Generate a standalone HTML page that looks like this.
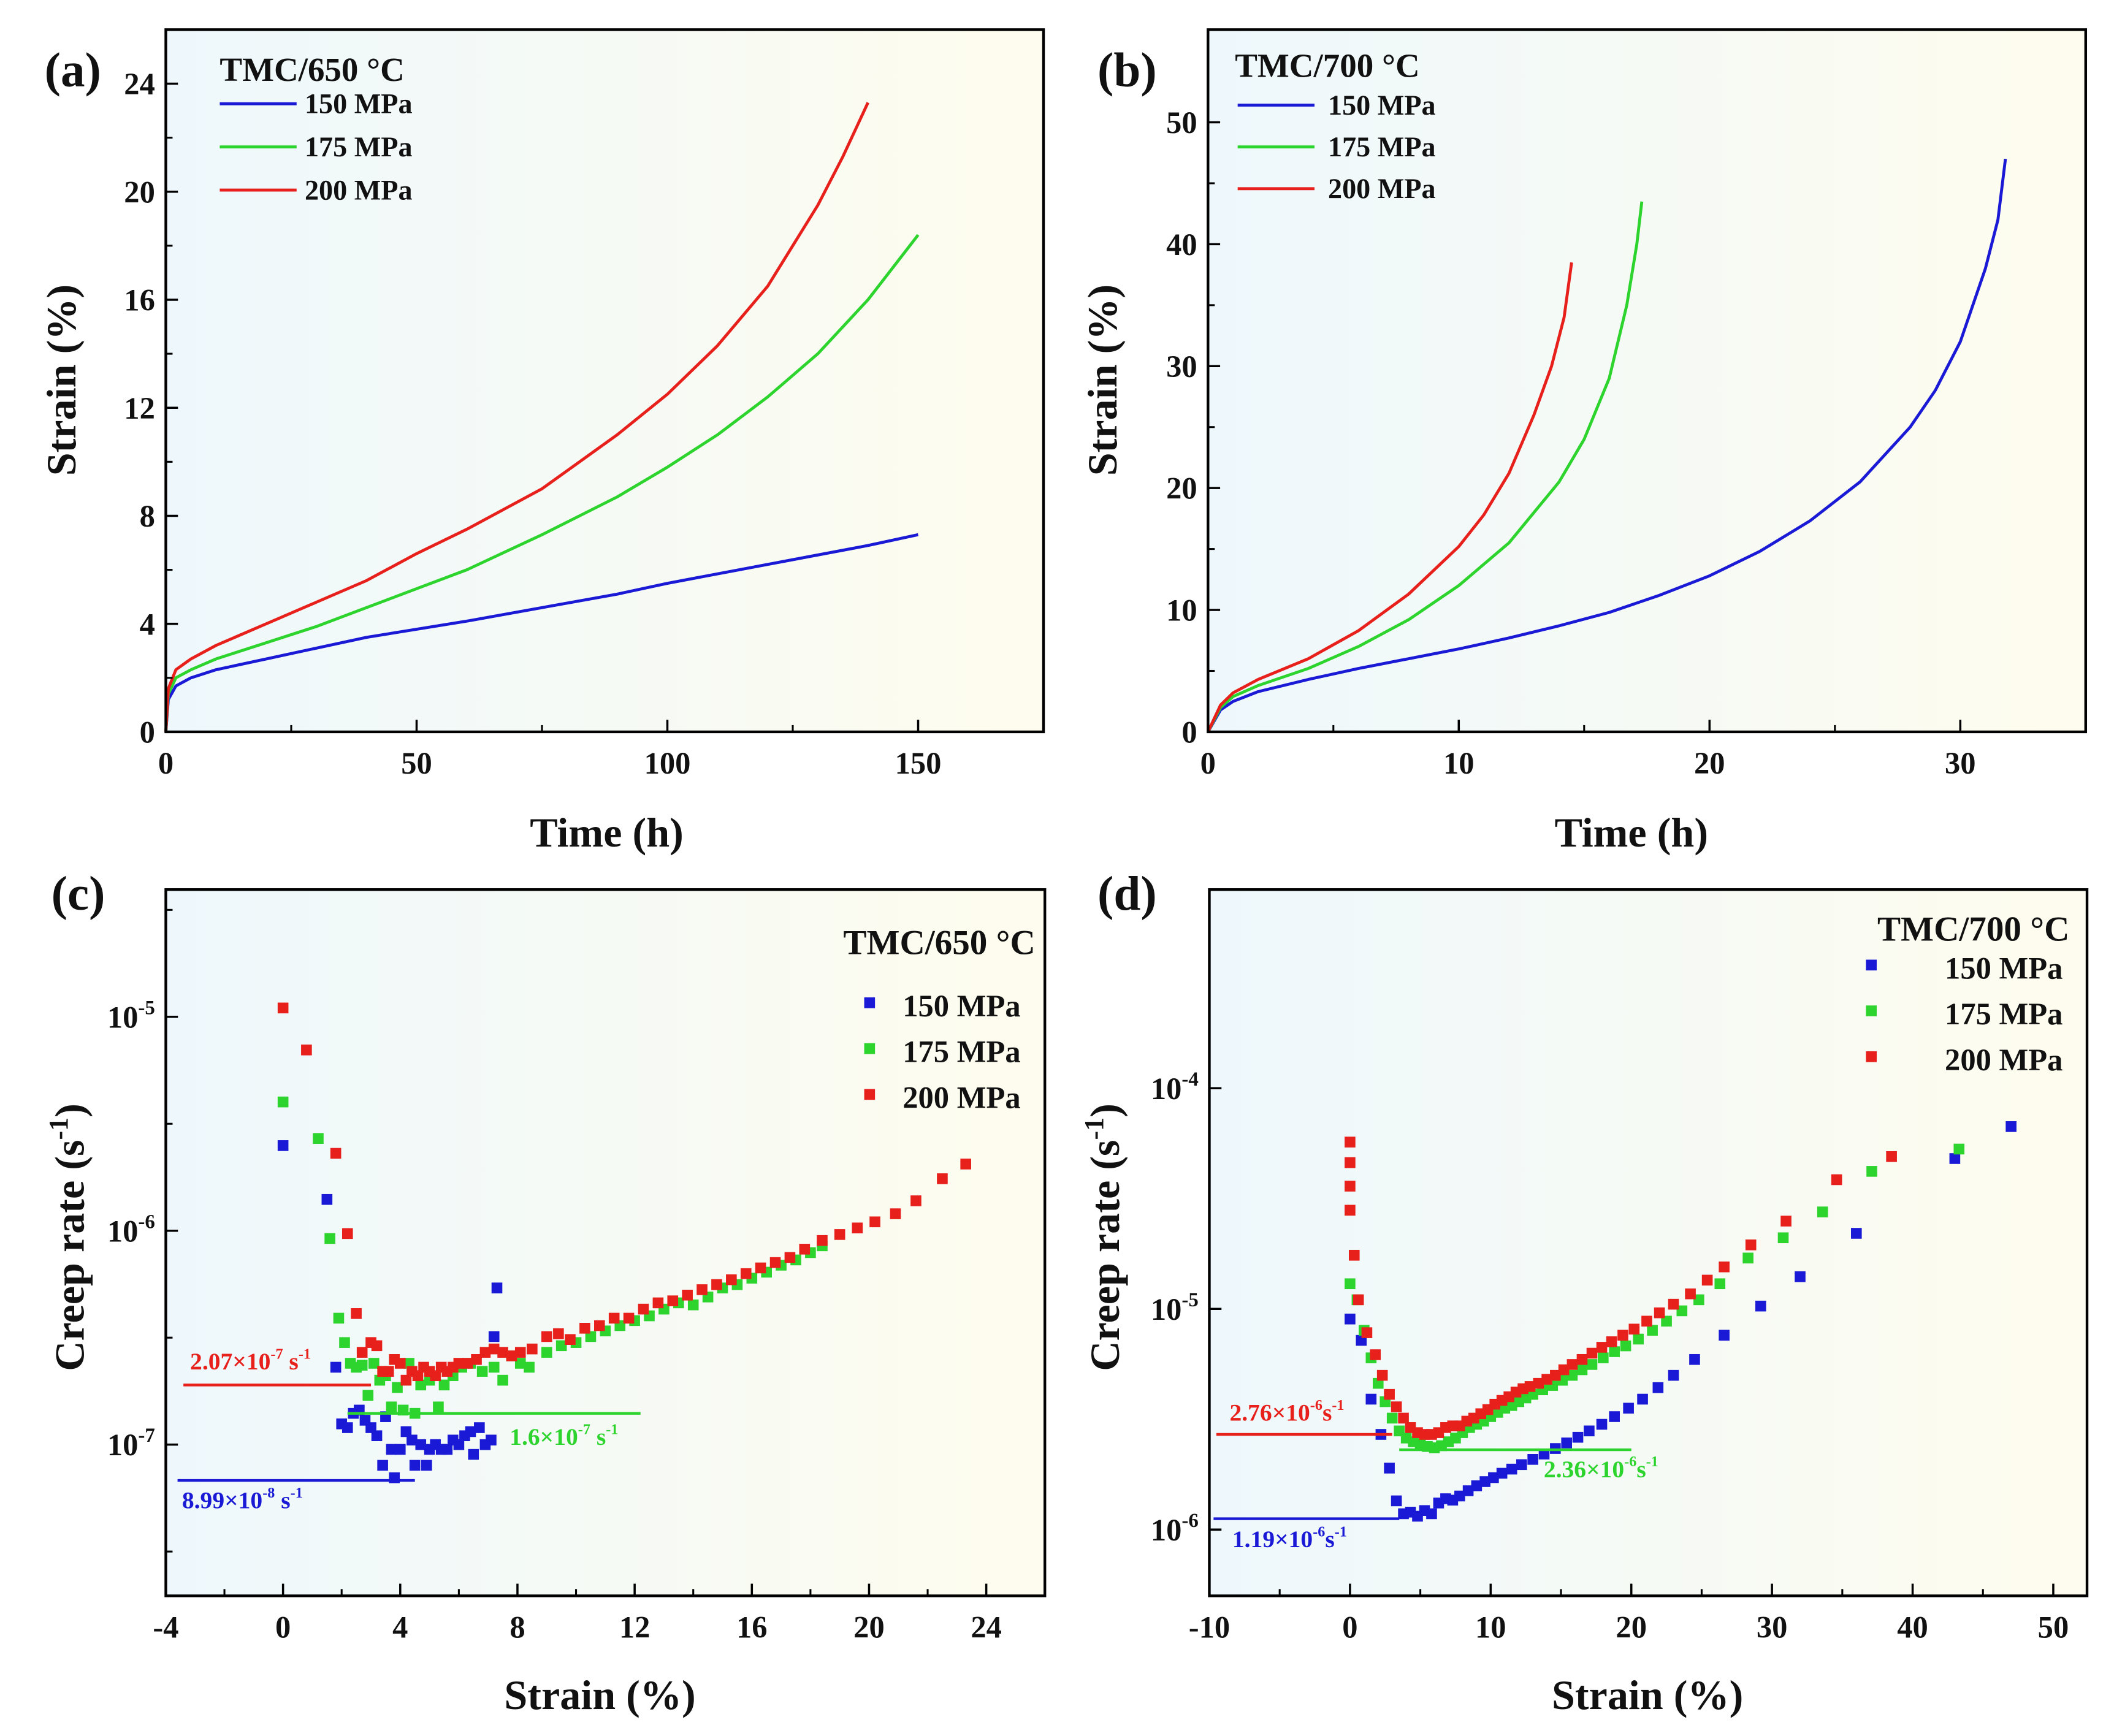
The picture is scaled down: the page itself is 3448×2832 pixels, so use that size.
<!DOCTYPE html>
<html><head><meta charset="utf-8"><style>
html,body{margin:0;padding:0;background:#fff;}
svg{display:block;font-family:"Liberation Serif","DejaVu Serif",serif;font-weight:bold;}
</style></head><body>
<svg id="fig" width="3448" height="2832" viewBox="0 0 1568 1288" preserveAspectRatio="none" xmlns="http://www.w3.org/2000/svg">
<defs>
<linearGradient id="bg" x1="0" y1="0" x2="1" y2="0"><stop offset="0" stop-color="#eef8fc"/><stop offset="1" stop-color="#fefcee"/></linearGradient>
</defs>
</svg>
<script>
// ---------- DATA ----------
const aTime150=[0,0.5,2,5,10,20,30,40,50,60,75,90,100,120,140,150];
const aStrain150=[0,1.2,1.7,2.0,2.3,2.7,3.1,3.5,3.8,4.1,4.6,5.1,5.5,6.2,6.9,7.3];
const aTime175=[0,0.5,2,5,10,20,30,40,50,60,75,90,100,110,120,130,140,150];
const aStrain175=[0,1.4,2.0,2.3,2.7,3.3,3.9,4.6,5.3,6.0,7.3,8.7,9.8,11.0,12.4,14.0,16.0,18.4];
const aTime200=[0,0.5,2,5,10,20,30,40,50,60,75,90,100,110,120,130,135,140];
const aStrain200=[0,1.6,2.3,2.7,3.2,4.0,4.8,5.6,6.6,7.5,9.0,11.0,12.5,14.3,16.5,19.5,21.3,23.3];

const bTime150=[0,0.5,1,2,4,6,8,10,12,14,16,18,20,22,24,26,28,29,30,31,31.5,31.8];
const bStrain150=[0,1.8,2.5,3.3,4.3,5.2,6.0,6.8,7.7,8.7,9.8,11.2,12.8,14.8,17.3,20.5,25,28,32,38,42,47];
const bTime175=[0,0.5,1,2,4,6,8,10,12,14,15,16,16.7,17.1,17.3];
const bStrain175=[0,2,2.9,3.8,5.2,7.0,9.2,12.0,15.5,20.5,24,29,35,40,43.5];
const bTime200=[0,0.5,1,2,4,6,8,10,11,12,13,13.7,14.2,14.5];
const bStrain200=[0,2.2,3.2,4.3,6.0,8.3,11.3,15.2,17.8,21.2,26,30,34,38.5];

const cStrain150=[0,1.5,1.8,2.0,2.2,2.4,2.6,2.8,3.0,3.2,3.4,3.5,3.7,3.8,4.0,4.2,4.4,4.5,4.7,4.9,5.0,5.2,5.4,5.6,5.8,6.0,6.2,6.4,6.5,6.7,6.9,7.1,7.2,7.3];
const cRate150=[2.5e-6,1.4e-6,2.3e-7,1.25e-7,1.2e-7,1.4e-7,1.45e-7,1.3e-7,1.2e-7,1.1e-7,8e-8,1.35e-7,9.5e-8,7e-8,9.5e-8,1.15e-7,1.05e-7,8e-8,1e-7,8e-8,9.5e-8,1e-7,9.5e-8,9.5e-8,1.05e-7,1e-7,1.1e-7,1.15e-7,9e-8,1.2e-7,1e-7,1.05e-7,3.2e-7,5.4e-7];
const cStrain175=[0,1.2,1.6,1.9,2.1,2.3,2.5,2.7,2.9,3.1,3.3,3.5,3.7,3.9,4.1,4.3,4.5,4.7,5.0,5.3,5.5,5.8,6.1,6.4,6.8,7.2,7.5,7.8,8.1,8.4,9.0,9.5,10,10.5,11,11.5,12,12.5,13,13.5,14,14.5,15,15.5,16,16.5,17,17.5,18,18.4];
const cRate175=[4e-6,2.7e-6,9.2e-7,3.9e-7,3e-7,2.4e-7,2.3e-7,2.35e-7,1.7e-7,2.4e-7,2e-7,2.1e-7,1.5e-7,1.85e-7,1.45e-7,2.4e-7,1.4e-7,1.9e-7,2e-7,1.5e-7,1.9e-7,2.1e-7,2.3e-7,2.4e-7,2.2e-7,2.3e-7,2.0e-7,2.6e-7,2.4e-7,2.3e-7,2.7e-7,2.9e-7,3.0e-7,3.2e-7,3.4e-7,3.6e-7,3.8e-7,4.0e-7,4.3e-7,4.6e-7,4.5e-7,4.9e-7,5.4e-7,5.6e-7,6.0e-7,6.4e-7,6.9e-7,7.3e-7,7.9e-7,8.5e-7];
const cStrain200=[0,0.8,1.8,2.2,2.5,2.7,3.0,3.2,3.4,3.6,3.8,4.0,4.2,4.4,4.6,4.8,5.0,5.2,5.4,5.6,5.8,6.0,6.3,6.6,6.9,7.2,7.5,7.8,8.1,8.5,9.0,9.4,9.8,10.3,10.8,11.3,11.8,12.3,12.8,13.3,13.8,14.3,14.8,15.3,15.8,16.3,16.8,17.3,17.8,18.4,19.0,19.6,20.2,20.9,21.6,22.5,23.3];
const cRate200=[1.1e-5,7e-6,2.3e-6,9.7e-7,4.1e-7,2.7e-7,3e-7,2.9e-7,2.2e-7,2.2e-7,2.5e-7,2.4e-7,2.0e-7,2.2e-7,2.1e-7,2.3e-7,2.2e-7,2.1e-7,2.3e-7,2.2e-7,2.3e-7,2.4e-7,2.4e-7,2.5e-7,2.7e-7,2.8e-7,2.7e-7,2.6e-7,2.7e-7,2.8e-7,3.2e-7,3.3e-7,3.1e-7,3.5e-7,3.6e-7,3.9e-7,3.9e-7,4.3e-7,4.6e-7,4.7e-7,5.0e-7,5.3e-7,5.6e-7,5.9e-7,6.3e-7,6.7e-7,7.1e-7,7.5e-7,8.2e-7,9.0e-7,9.6e-7,1.03e-6,1.1e-6,1.2e-6,1.38e-6,1.75e-6,2.05e-6];

const dStrain150=[0,0.8,1.5,2.2,2.8,3.3,3.8,4.3,4.8,5.3,5.8,6.3,6.8,7.3,7.8,8.4,9,9.6,10.2,10.8,11.5,12.2,13,13.8,14.6,15.4,16.2,17,17.9,18.8,19.8,20.8,21.9,23,24.5,26.6,29.2,32,36,43,47];
const dRate150=[9e-6,7.2e-6,3.9e-6,2.7e-6,1.9e-6,1.35e-6,1.18e-6,1.2e-6,1.15e-6,1.22e-6,1.18e-6,1.32e-6,1.38e-6,1.36e-6,1.42e-6,1.5e-6,1.58e-6,1.65e-6,1.72e-6,1.8e-6,1.88e-6,1.97e-6,2.08e-6,2.2e-6,2.33e-6,2.47e-6,2.62e-6,2.8e-6,3.0e-6,3.25e-6,3.55e-6,3.9e-6,4.4e-6,5.0e-6,5.9e-6,7.6e-6,1.03e-5,1.4e-5,2.2e-5,4.8e-5,6.7e-5];
const dStrain175=[0,0.5,1,1.5,2,2.5,3,3.5,4,4.5,5,5.5,6,6.5,7,7.5,8,8.5,9,9.5,10,10.5,11,11.5,12,12.5,13,13.7,14.4,15.1,15.8,16.5,17.2,18,18.8,19.6,20.5,21.5,22.5,23.6,24.8,26.3,28.3,30.8,33.6,37.1,43.3];
const dRate175=[1.3e-5,1.1e-5,8e-6,6e-6,4.6e-6,3.8e-6,3.2e-6,2.8e-6,2.6e-6,2.5e-6,2.45e-6,2.38e-6,2.35e-6,2.4e-6,2.5e-6,2.6e-6,2.75e-6,2.9e-6,3.0e-6,3.1e-6,3.25e-6,3.4e-6,3.55e-6,3.65e-6,3.8e-6,3.95e-6,4.1e-6,4.3e-6,4.5e-6,4.75e-6,5.0e-6,5.3e-6,5.6e-6,6.0e-6,6.4e-6,6.8e-6,7.3e-6,8e-6,8.8e-6,9.8e-6,1.1e-5,1.3e-5,1.7e-5,2.1e-5,2.75e-5,4.2e-5,5.3e-5];
const dStrain200=[0,0,0,0,0.3,0.6,1.2,1.8,2.3,2.8,3.3,3.8,4.3,4.8,5.3,5.8,6.3,6.8,7.3,7.8,8.3,8.8,9.3,9.8,10.3,10.8,11.3,11.8,12.3,12.8,13.4,14,14.6,15.2,15.8,16.5,17.2,17.9,18.6,19.4,20.2,21.1,22,23,24.2,25.4,26.6,28.5,31,34.6,38.5];
const dRate200=[5.7e-5,4.6e-5,3.6e-5,2.8e-5,1.75e-5,1.1e-5,7.8e-6,6.2e-6,5e-6,4.1e-6,3.6e-6,3.2e-6,2.9e-6,2.75e-6,2.7e-6,2.7e-6,2.75e-6,2.9e-6,2.95e-6,2.95e-6,3.1e-6,3.2e-6,3.35e-6,3.5e-6,3.7e-6,3.85e-6,4.0e-6,4.2e-6,4.35e-6,4.45e-6,4.6e-6,4.8e-6,5.0e-6,5.3e-6,5.6e-6,5.9e-6,6.3e-6,6.7e-6,7.1e-6,7.6e-6,8.1e-6,8.8e-6,9.6e-6,1.05e-5,1.17e-5,1.35e-5,1.55e-5,1.95e-5,2.5e-5,3.85e-5,4.9e-5];

const aXTicks=[0,50,100,150];
const aYTicks=[0,4,8,12,16,20,24];
const bXTicks=[0,10,20,30];
const bYTicks=[0,10,20,30,40,50];
const cXTicks=[-4,0,4,8,12,16,20,24];
const cYExp=[-5,-6,-7];
const dXTicks=[-10,0,10,20,30,40,50];
const dYExp=[-4,-5,-6];

const BLUE="#1a1ad6",GREEN="#2ed42e",RED="#e8201c";
const svg=document.getElementById('fig');
const NS="http://www.w3.org/2000/svg";
function el(tag,attrs,parent){const e=document.createElementNS(NS,tag);for(const k in attrs)e.setAttribute(k,attrs[k]);(parent||svg).appendChild(e);return e;}
function txt(x,y,s,size,anchor,fill,parent){const t=el('text',{x:x,y:y,'font-size':size,'text-anchor':anchor||'start',fill:fill||'#111'},parent);t.innerHTML=s;return t;}

function panel(name,L,T,R,B,xmin,xmax,ymin,ymax,log){
  const g=el('g',{});
  
  
  const fx=v=>L+(v-xmin)/(xmax-xmin)*(R-L);
  const fy=log?(v=>B-(Math.log10(v)-ymin)/(ymax-ymin)*(B-T)):(v=>B-(v-ymin)/(ymax-ymin)*(B-T));
  const bgr=el('rect',{x:L,y:T,width:R-L,height:B-T,fill:'url(#bg)'},g);
  
  
  return {g,fx,fy,L,T,R,B,ymin,ymax};
}
function frame(p){
  const f=el('rect',{x:p.L,y:p.T,width:p.R-p.L,height:p.B-p.T,fill:'none',stroke:'#000','stroke-width':2},p.g);
  
  
}
function xTicks(p,ticks,minor){
  ticks.forEach((v,i)=>{
    const x=p.fx(v);
    el('line',{x1:x,y1:p.B,x2:x,y2:p.B-9,stroke:'#000','stroke-width':1.6},p.g);
    const t=txt(x,p.B+31,String(v),23,'middle','#111',p.g);
    
    
    if(minor&&i<ticks.length-1){const m=p.fx((v+ticks[i+1])/2);el('line',{x1:m,y1:p.B,x2:m,y2:p.B-5,stroke:'#000','stroke-width':1.4},p.g);}
  });
}
function yTicks(p,ticks){
  ticks.forEach((v,i)=>{
    const y=p.fy(v);
    el('line',{x1:p.L,y1:y,x2:p.L+9,y2:y,stroke:'#000','stroke-width':1.6},p.g);
    const t=txt(p.L-8,y+8,String(v),23,'end','#111',p.g);
    
    
    if(i<ticks.length-1){const m=p.fy((v+ticks[i+1])/2);el('line',{x1:p.L,y1:m,x2:p.L+5,y2:m,stroke:'#000','stroke-width':1.4},p.g);}
  });
}
function yLogTicks(p,exps){
  exps.forEach(e=>{
    const y=p.fy(Math.pow(10,e));
    el('line',{x1:p.L,y1:y,x2:p.L+9,y2:y,stroke:'#000','stroke-width':1.6},p.g);
    const t=txt(p.L-8,y+8,'10<tspan dy="-10" font-size="15">'+e+'</tspan>',23,'end','#111',p.g);
    
    
  });
  for(let h=Math.ceil(p.ymin*2)/2;h<p.ymax;h+=1){
    if(Number.isInteger(h))continue;
    const y=p.fy(Math.pow(10,h));
    el('line',{x1:p.L,y1:y,x2:p.L+5,y2:y,stroke:'#000','stroke-width':1.4},p.g);
  }
}
function line(p,xs,ys,color,name){
  const d=xs.map((x,i)=>(i?'L':'M')+p.fx(x).toFixed(2)+','+p.fy(ys[i]).toFixed(2)).join('');
  const pa=el('path',{d:d,fill:'none',stroke:color,'stroke-width':2.2,'stroke-linejoin':'round'},p.g);
  
  
}
function scatter(p,xs,ys,color,name){
  const g=el('g',{fill:color},p.g);
  
  
  xs.forEach((x,i)=>{const r=el('rect',{x:p.fx(x)-4,y:p.fy(ys[i])-4,width:8,height:8},g);
    
    });
}
function hline(p,x1,x2,yv,color,name){
  const l=el('line',{x1:p.fx(x1),x2:p.fx(x2),y1:p.fy(yv),y2:p.fy(yv),stroke:color,'stroke-width':2},p.g);
  
  
}
function label(x,y,s,size,name,rot){
  const t=txt(x,y,s,size,'middle','#111');
  if(rot)t.setAttribute('transform','rotate(-90 '+x+' '+y+')');
  
  
}

// ----- Panel a -----
const pa=panel('panel-a',123,22,774,543,0,175,0,26.0,false);
line(pa,aTime150,aStrain150,BLUE,'series-150mpa');
line(pa,aTime175,aStrain175,GREEN,'series-175mpa');
line(pa,aTime200,aStrain200,RED,'series-200mpa');
xTicks(pa,aXTicks,true);yTicks(pa,aYTicks);frame(pa);
txt(163,60,'TMC/650 °C',25,'start','#111',pa.g);
[[BLUE,'150 MPa',84],[GREEN,'175 MPa',116],[RED,'200 MPa',148]].forEach(l=>{
  el('line',{x1:163,x2:220,y1:l[2]-7,y2:l[2]-7,stroke:l[0],'stroke-width':2.2},pa.g);
  const t=txt(226,l[2],l[1],21,'start','#111',pa.g);});

// ----- Panel b -----
const pb=panel('panel-b',896,22,1547,543,0,35,0,57.6,false);
line(pb,bTime150,bStrain150,BLUE,'series-150mpa');
line(pb,bTime175,bStrain175,GREEN,'series-175mpa');
line(pb,bTime200,bStrain200,RED,'series-200mpa');
xTicks(pb,bXTicks,true);yTicks(pb,bYTicks);frame(pb);
txt(916,57,'TMC/700 °C',25,'start','#111',pb.g);
[[BLUE,'150 MPa',85],[GREEN,'175 MPa',116],[RED,'200 MPa',147]].forEach(l=>{
  el('line',{x1:918,x2:975,y1:l[2]-7,y2:l[2]-7,stroke:l[0],'stroke-width':2.2},pb.g);
  const t=txt(985,l[2],l[1],21,'start','#111',pb.g);});

// ----- Panel c -----
const pc=panel('panel-c',123,660,775,1184,-4,26,-7.707,-4.405,true);
scatter(pc,cStrain150,cRate150,BLUE,'series-150mpa');
scatter(pc,cStrain175,cRate175,GREEN,'series-175mpa');
scatter(pc,cStrain200,cRate200,RED,'series-200mpa');
hline(pc,-3.4,3.0,1.9e-7,RED,'steady-rate-200');
hline(pc,2.2,12.2,1.4e-7,GREEN,'steady-rate-175');
hline(pc,-3.6,4.5,6.8e-8,BLUE,'steady-rate-150');
txt(141,1016,'2.07×10<tspan dy="-8" font-size="11">-7</tspan><tspan dy="8"> s</tspan><tspan dy="-8" font-size="11">-1</tspan>',18,'start',RED,pc.g);
txt(378,1072,'1.6×10<tspan dy="-8" font-size="11">-7</tspan><tspan dy="8"> s</tspan><tspan dy="-8" font-size="11">-1</tspan>',18,'start',GREEN,pc.g);
txt(135,1119,'8.99×10<tspan dy="-8" font-size="11">-8</tspan><tspan dy="8"> s</tspan><tspan dy="-8" font-size="11">-1</tspan>',18,'start',BLUE,pc.g);
xTicks(pc,cXTicks,true);yLogTicks(pc,cYExp);frame(pc);
txt(768,708,'TMC/650 °C',26,'end','#111',pc.g);
[[BLUE,'150 MPa',754],[GREEN,'175 MPa',788],[RED,'200 MPa',822]].forEach(l=>{
  el('rect',{x:641,y:l[2]-14,width:8,height:8,fill:l[0]},pc.g);
  const t=txt(757,l[2],l[1],23,'end','#111',pc.g);});

// ----- Panel d -----
const pd=panel('panel-d',897,660,1548,1184,-10,52.4,-6.30,-3.10,true);
scatter(pd,dStrain150,dRate150,BLUE,'series-150mpa');
scatter(pd,dStrain175,dRate175,GREEN,'series-175mpa');
scatter(pd,dStrain200,dRate200,RED,'series-200mpa');
hline(pd,-9.5,3.0,2.7e-6,RED,'steady-rate-200');
hline(pd,3.5,20,2.3e-6,GREEN,'steady-rate-175');
hline(pd,-9.7,3.5,1.12e-6,BLUE,'steady-rate-150');
txt(912,1054,'2.76×10<tspan dy="-8" font-size="11">-6</tspan><tspan dy="8">s</tspan><tspan dy="-8" font-size="11">-1</tspan>',18,'start',RED,pd.g);
txt(1145,1096,'2.36×10<tspan dy="-8" font-size="11">-6</tspan><tspan dy="8">s</tspan><tspan dy="-8" font-size="11">-1</tspan>',18,'start',GREEN,pd.g);
txt(914,1148,'1.19×10<tspan dy="-8" font-size="11">-6</tspan><tspan dy="8">s</tspan><tspan dy="-8" font-size="11">-1</tspan>',18,'start',BLUE,pd.g);
xTicks(pd,dXTicks,true);yLogTicks(pd,dYExp);frame(pd);
txt(1535,698,'TMC/700 °C',26,'end','#111',pd.g);
[[BLUE,'150 MPa',726],[GREEN,'175 MPa',760],[RED,'200 MPa',794]].forEach(l=>{
  el('rect',{x:1384,y:l[2]-14,width:8,height:8,fill:l[0]},pd.g);
  const t=txt(1530,l[2],l[1],23,'end','#111',pd.g);});

// ----- Labels -----
label(54,64,'(a)',36,'panel-label-a');
label(836,64,'(b)',36,'panel-label-b');
label(58,675,'(c)',36,'panel-label-c');
label(836,675,'(d)',36,'panel-label-d');
label(56,282,'Strain (%)',31,'y-axis-title-a',true);
label(828,282,'Strain (%)',31,'y-axis-title-b',true);
label(450,628,'Time (h)',31,'x-axis-title-a');
label(1210,628,'Time (h)',31,'x-axis-title-b');
label(62,918,'Creep rate (s<tspan dy="-12" font-size="20">-1</tspan><tspan dy="12">)</tspan>',31,'y-axis-title-c',true);
label(830,918,'Creep rate (s<tspan dy="-12" font-size="20">-1</tspan><tspan dy="12">)</tspan>',31,'y-axis-title-d',true);
label(445,1268,'Strain (%)',31,'x-axis-title-c');
label(1222,1268,'Strain (%)',31,'x-axis-title-d');
</script>
</body></html>
